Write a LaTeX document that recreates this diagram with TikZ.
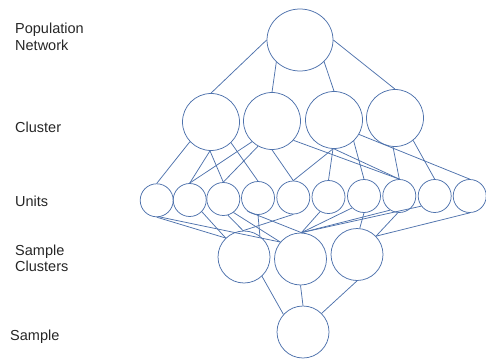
\documentclass[tikz,border=0pt]{standalone}
\usepackage{fontspec}
\setmainfont{Liberation Sans}
\usetikzlibrary{shapes.geometric}
\definecolor{lc}{RGB}{78,114,172}
\begin{document}
\begin{tikzpicture}[x=1pt,y=-1pt,
  cir/.style={circle, draw=lc, line width=0.75pt, inner sep=0pt, minimum size=#1},
  cir/.default=33pt,
  edge/.style={draw=lc, line width=0.75pt},
  lbl/.style={anchor=base west, inner sep=0pt, font=\fontsize{14.5}{17.4}\selectfont, text=black!85}]
\useasboundingbox (0,0) rectangle (486,358);
% labels
\node[lbl] (lp) at (15,33.3) {Population};
\node[lbl] (ln) at (15,50.7) {Network};
\node[lbl] (lc1) at (15,132.7) {Cluster};
\node[lbl] (lu) at (15,206.7) {Units};
\node[lbl] (ls1) at (15,255) {Sample};
\node[lbl] (ls2) at (15,271.7) {Clusters};
\node[lbl] (lsm) at (10,340) {Sample};
% population
\node[ellipse, draw=lc, line width=0.75pt, inner sep=0pt, minimum width=66pt, minimum height=62pt] (P) at (300,40) {};
% clusters
\node[cir=57pt] (C1) at (211,122) {};
\node[cir=57pt] (C2) at (272,121) {};
\node[cir=57pt] (C3) at (334,120) {};
\node[cir=57pt] (C4) at (395,118) {};
% units
\node[cir] (U1) at (156.7,200.3) {};
\node[cir] (U2) at (189.7,200) {};
\node[cir] (U3) at (223.3,199) {};
\node[cir] (U4) at (258,198) {};
\node[cir] (U5) at (293.3,197.5) {};
\node[cir] (U6) at (328.5,197) {};
\node[cir] (U7) at (364,196) {};
\node[cir] (U8) at (399.3,196) {};
\node[cir] (U9) at (434.7,196) {};
\node[cir] (U10) at (469.7,196) {};
% sample clusters
\node[cir=52pt] (S1) at (244,257) {};
\node[cir=52pt] (S2) at (300.5,259) {};
\node[cir=52pt] (S3) at (357,254.5) {};
% sample
\node[cir=52pt] (SM) at (303,332) {};
% population - clusters
\draw[edge] (P.west) -- (C1.north);
\draw[edge] (P.223) -- (C2.north);
\draw[edge] (P.318) -- (C3.north);
\draw[edge] (P.east) -- (C4.north);
% clusters - units
\draw[edge] (C1.223) -- (U1.north);
\draw[edge] (C1.268) -- (U2.north);
\draw[edge] (C1.268) -- (U3.north);
\draw[edge] (C1.314) -- (U4.north);
\draw[edge] (C2.226) -- (U2.north);
\draw[edge] (C2.241) -- (U3.north);
\draw[edge] (C2.270) -- (U5.north);
\draw[edge] (C2.318) -- (U8.north);
\draw[edge] (C3.268) -- (U5.north);
\draw[edge] (C3.268) -- (U6.north);
\draw[edge] (C3.313) -- (U7.north);
\draw[edge] (C3.270) -- (U8.north);
\draw[edge] (C3.330) -- (U10.north);
\draw[edge] (C4.266) -- (U8.north);
\draw[edge] (C4.309) -- (U9.north);
% units - sample clusters
\draw[edge] (U1.south) -- (S1.134);
\draw[edge] (U1.280) -- (S2.140);
\draw[edge] (U2.316) -- (S1.134);
\draw[edge] (U3.286) -- (S1.92);
\draw[edge] (U3.307) -- (S2.140);
\draw[edge] (U4.south) -- (S1.53);
\draw[edge] (U4.232) -- (S2.88);
\draw[edge] (U5.south) -- (S1.92);
\draw[edge] (U6.240) -- (S2.88);
\draw[edge] (U7.225) -- (S2.88);
\draw[edge] (U7.south) -- (S3.84);
\draw[edge] (U8.237) -- (S2.88);
\draw[edge] (U8.265) -- (S3.44);
\draw[edge] (U9.217) -- (S2.88);
\draw[edge] (U10.south) -- (S3.44);
% sample clusters - sample
\draw[edge] (S1.313) -- (SM.138);
\draw[edge] (S2.south) -- (SM.north);
\draw[edge] (S3.south) -- (SM.45);
\end{tikzpicture}
\end{document}
